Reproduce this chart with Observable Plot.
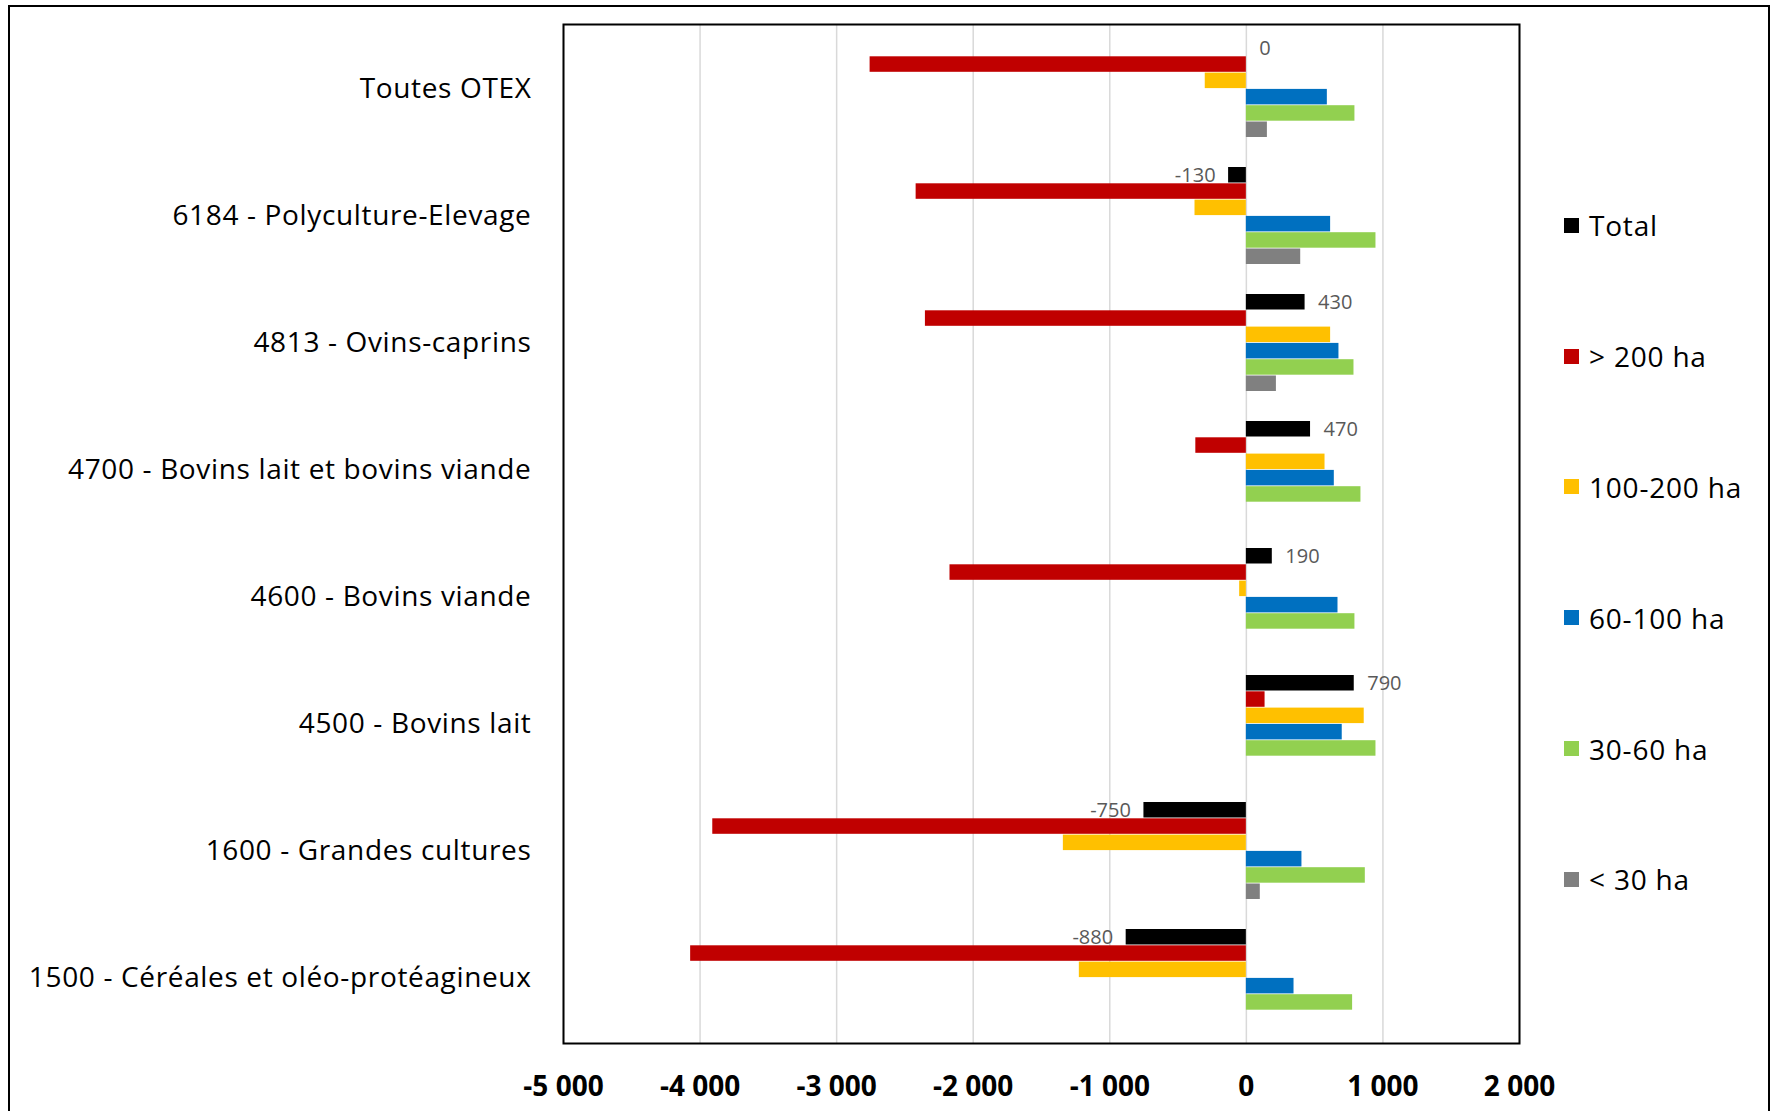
<!DOCTYPE html>
<html>
<head>
<meta charset="utf-8">
<script src="https://cdn.jsdelivr.net/npm/d3@7"></script>
<script src="https://cdn.jsdelivr.net/npm/@observablehq/plot@0.6"></script>
<style>
  body { margin: 0; background: #fff; }
  #chart { position: relative; width: 1777px; height: 1111px; overflow: hidden; font-family: "Open Sans", sans-serif; }
  #chart svg { position: absolute; left: 0; top: 0; }
  .outer { position: absolute; left: 8px; top: 5px; width: 1762px; height: 1130px; border: 2.5px solid #000; box-sizing: border-box; pointer-events: none; }
  #legend { position: absolute; left: 1564px; top: 160px; }
  .item { height: 130.8px; display: flex; align-items: center; font-size: 28px; letter-spacing: 0.8px; color: #000; }
  .swatch { width: 15px; height: 15px; margin-right: 10px; }
</style>
</head>
<body>
<div id="chart"><div class="outer"></div><div id="legend"></div></div>
<script>
// Categories (OTEX), top to bottom
const categories = [
  "Toutes OTEX",
  "6184 - Polyculture-Elevage",
  "4813 - Ovins-caprins",
  "4700 - Bovins lait et bovins viande",
  "4600 - Bovins viande",
  "4500 - Bovins lait",
  "1600 - Grandes cultures",
  "1500 - Céréales et oléo-protéagineux"
];

// Size classes, in bar order inside each group
const series = ["Total", "> 200 ha", "100-200 ha", "60-100 ha", "30-60 ha", "< 30 ha"];
const colors = ["#000000", "#C00000", "#FFC000", "#0070C0", "#92D050", "#808080"];

// Values per series, one per category (null = no bar)
const total     = [0, -130, 430, 470, 190, 790, -750, -880];
const over200   = [-2755, -2418, -2350, -370, -2170, 137, -3907, -4069];
const c100_200  = [-301, -376, 617, 576, -49, 863, -1340, -1223];
const c60_100   = [593, 617, 678, 644, 671, 702, 407, 349];
const c30_60    = [795, 949, 788, 839, 795, 949, 871, 778];
const under30   = [154, 398, 220, null, null, null, 102, null];

const xTicks = [-5000, -4000, -3000, -2000, -1000, 0, 1000, 2000];

const valuesBySeries = [total, over200, c100_200, c60_100, c30_60, under30];
const rows = [];
series.forEach((s, i) => categories.forEach((c, j) => {
  const v = valuesBySeries[i][j];
  if (v != null) rows.push({category: c, series: s, value: v});
}));
const totals = categories.map((c, j) => ({category: c, value: total[j]}));

const width = 1777, height = 1111;
const margin = {top: 24, right: 258, bottom: 68, left: 563};
const paddingInner = 0.2335, paddingOuter = 0.11;
const step = (height - margin.top - margin.bottom) / (categories.length - paddingInner + 2 * paddingOuter);
const slot = step * (1 - paddingInner) / series.length;

const fr = d3.formatLocale({decimal: ",", thousands: " ", grouping: [3], currency: ["", ""], minus: "-"});
const fmt = fr.format(",");

const plot = Plot.plot({
  width, height,
  marginTop: margin.top, marginRight: margin.right, marginBottom: margin.bottom, marginLeft: margin.left,
  style: {fontFamily: "Open Sans, sans-serif", background: "transparent"},
  x: {domain: [-5000, 2000]},
  y: {domain: categories, paddingInner, paddingOuter},
  color: {domain: series, range: colors},
  marks: [
    Plot.ruleX(xTicks, {stroke: "#d9d9d9", strokeWidth: 1.5}),
    ...series.map((s, i) => Plot.barX(rows.filter(d => d.series === s), {
      x: "value", y: "category", fill: "series",
      insetTop: i * slot, insetBottom: (series.length - 1 - i) * slot
    })),
    Plot.text(totals.filter(d => d.value >= 0), {
      x: "value", y: "category", text: d => fmt(d.value),
      dy: -2.5 * slot, dx: 13, textAnchor: "start", fill: "#595959", fontSize: 20
    }),
    Plot.text(totals.filter(d => d.value < 0), {
      x: "value", y: "category", text: d => fmt(d.value),
      dy: -2.5 * slot, dx: -13, textAnchor: "end", fill: "#595959", fontSize: 20
    }),
    Plot.frame({stroke: "#000", strokeWidth: 2}),
    Plot.axisX({ticks: xTicks, tickFormat: fmt, tickSize: 0, tickPadding: 33, label: null,
      fontSize: 28, fontWeight: "bold", fill: "#000"}),
    Plot.axisY({tickSize: 0, tickPadding: 32, label: null, fontSize: 28, fill: "#000"})
  ]
});
// Slightly looser tracking on the category labels
d3.select(plot).selectAll('g[aria-label="y-axis tick label"]')
  .style("letter-spacing", "0.65px");
document.getElementById("chart").prepend(plot);

// Legend
const legend = d3.select("#legend");
series.forEach((s, i) => {
  const item = legend.append("div").attr("class", "item");
  item.append("div").attr("class", "swatch").style("background", colors[i]);
  item.append("span").text(s);
});
</script>
</body>
</html>
